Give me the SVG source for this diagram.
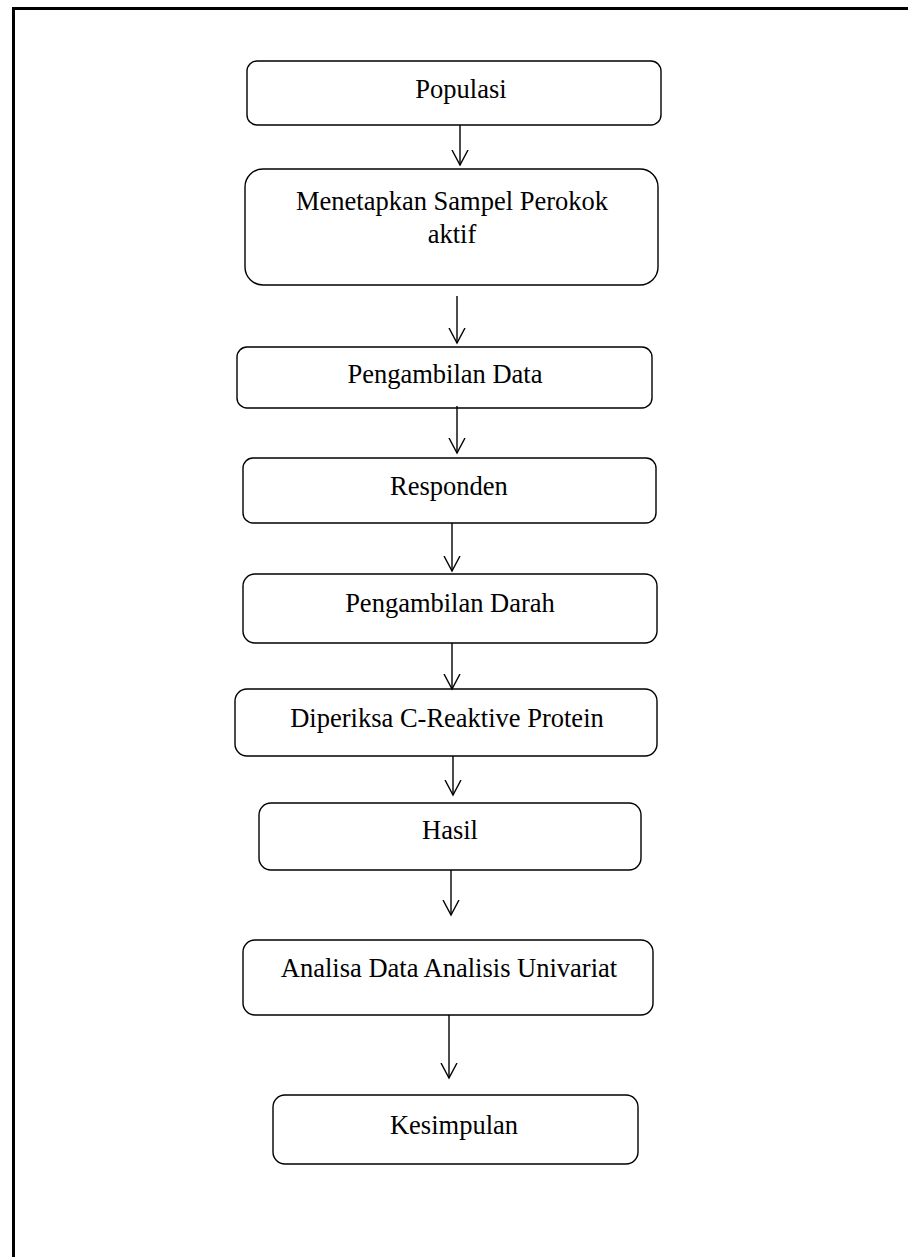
<svg xmlns="http://www.w3.org/2000/svg" width="908" height="1257" viewBox="0 0 908 1257">
<style>
.box{fill:#fff;stroke:#000;stroke-width:1.4}
.lbl{font-family:"Liberation Serif","Times New Roman",serif;font-size:26.5px;fill:#000;text-anchor:middle}
.conn{stroke:#000;stroke-width:1.4;fill:none}
</style>
<defs>
<marker id="arr" markerUnits="userSpaceOnUse" markerWidth="20" markerHeight="20" viewBox="0 0 20 20" refX="15.5" refY="8.5" orient="auto">
<path d="M0.5,0.5 L15.5,8.5 L0.5,16.5" fill="none" stroke="#000" stroke-width="1.4"/>
</marker>
</defs>
<rect width="908" height="1257" fill="#fff"/>
<g id="frame">
<path d="M908,8.5 L13.5,8.5 L13.5,1257" fill="none" stroke="#000" stroke-width="3"/>
</g>
<g id="n1"><rect class="box" x="247" y="61" width="414" height="64" rx="10"/><text class="lbl" x="461" y="98">Populasi</text></g>
<g id="n2"><rect class="box" x="245" y="169" width="413" height="116" rx="18"/><text class="lbl" x="452" y="210">Menetapkan Sampel Perokok</text><text class="lbl" x="452" y="243">aktif</text></g>
<g id="n3"><rect class="box" x="237" y="347" width="415" height="61" rx="10"/><text class="lbl" x="445" y="383">Pengambilan Data</text></g>
<g id="n4"><rect class="box" x="243" y="458" width="413" height="65" rx="10"/><text class="lbl" x="449" y="495">Responden</text></g>
<g id="n5"><rect class="box" x="243" y="574" width="414" height="69" rx="12"/><text class="lbl" x="450" y="612">Pengambilan Darah</text></g>
<g id="n6"><rect class="box" x="235" y="689" width="422" height="67" rx="12"/><text class="lbl" x="447" y="727">Diperiksa C-Reaktive Protein</text></g>
<g id="n7"><rect class="box" x="259" y="803" width="382" height="67" rx="12"/><text class="lbl" x="450" y="839">Hasil</text></g>
<g id="n8"><rect class="box" x="243" y="940" width="410" height="75" rx="12"/><text class="lbl" x="449" y="977">Analisa Data Analisis Univariat</text></g>
<g id="n9"><rect class="box" x="273" y="1095" width="365" height="69" rx="12"/><text class="lbl" x="454" y="1134">Kesimpulan</text></g>
<g id="connectors">
<line class="conn" x1="460" y1="125" x2="460" y2="165" marker-end="url(#arr)"/>
<line class="conn" x1="457" y1="296" x2="457" y2="343" marker-end="url(#arr)"/>
<line class="conn" x1="457" y1="406" x2="457" y2="453" marker-end="url(#arr)"/>
<line class="conn" x1="452" y1="523" x2="452" y2="571" marker-end="url(#arr)"/>
<line class="conn" x1="452" y1="643" x2="452" y2="689" marker-end="url(#arr)"/>
<line class="conn" x1="453" y1="756" x2="453" y2="795" marker-end="url(#arr)"/>
<line class="conn" x1="451" y1="870" x2="451" y2="915" marker-end="url(#arr)"/>
<line class="conn" x1="449" y1="1015" x2="449" y2="1078" marker-end="url(#arr)"/>
</g>
</svg>
